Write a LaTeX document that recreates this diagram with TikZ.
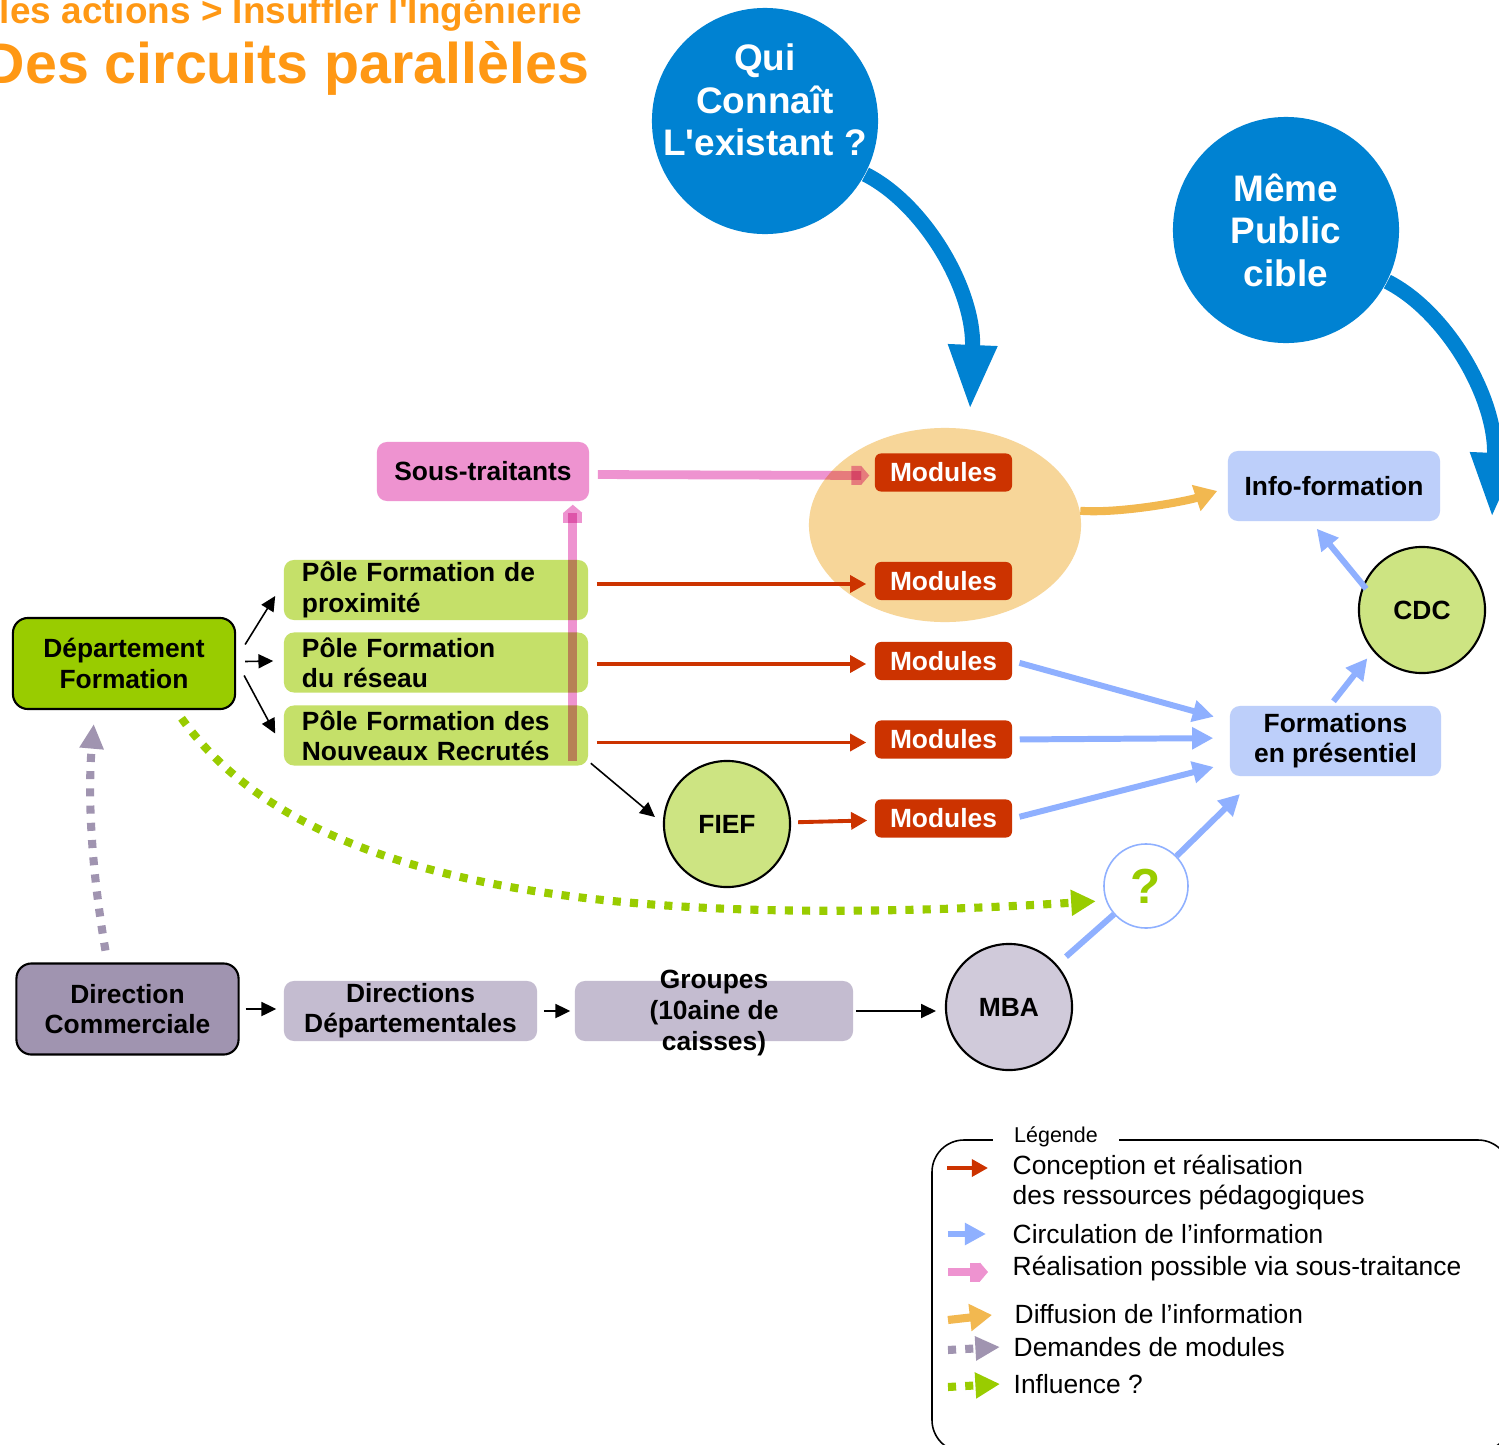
\documentclass[tikz,border=0pt]{standalone}
\usepackage{fontspec}
\setmainfont{Liberation Sans}
\usetikzlibrary{arrows.meta,shapes.geometric}
\definecolor{orangetitre}{RGB}{255,152,20}
\definecolor{bleubulle}{RGB}{0,130,210}
\definecolor{roseST}{RGB}{238,147,208}
\definecolor{vertpole}{RGB}{197,224,105}
\definecolor{vertdept}{RGB}{153,204,0}
\definecolor{vertrond}{RGB}{205,228,130}
\definecolor{violetDC}{RGB}{160,148,176}
\definecolor{violetclair}{RGB}{196,188,208}
\definecolor{violetMBA}{RGB}{208,202,218}
\definecolor{rougemod}{RGB}{204,51,0}
\definecolor{bleuboite}{RGB}{189,207,250}
\definecolor{bleufleche}{RGB}{143,176,255}
\definecolor{orangeell}{RGB}{247,214,153}
\definecolor{orangefleche}{RGB}{242,184,80}
\def\taille{\fontsize{7.5}{8.6}\selectfont}

\begin{document}
\begin{tikzpicture}[x=0.01cm,y=-0.01cm,font=\taille\bfseries]
            \tikzstyle{boite}=[rectangle,rounded corners=0.1cm,inner sep=0pt,align=center]
            \tikzstyle{pole}=[boite,fill=vertpole,minimum width=3.04cm,minimum height=0.6cm,text width=2.68cm,align=left]
            \tikzstyle{module}=[boite,fill=rougemod,text=white,minimum width=1.37cm,minimum height=0.38cm,rounded corners=0.06cm]
            \tikzstyle{info}=[boite,fill=bleuboite,minimum width=2.12cm,minimum height=0.7cm]
            \tikzstyle{chef}=[boite,draw=black,line width=0.6pt,minimum width=2.22cm,minimum height=0.91cm,rounded corners=0.15cm]
            \tikzstyle{violetbox}=[boite,fill=violetclair,minimum height=0.6cm]
            \tikzstyle{rond}=[circle,draw=black,line width=0.6pt,minimum size=1.26cm,inner sep=0pt]
            \tikzstyle{bulle}=[circle,fill=bleubulle,text=white,minimum size=2.26cm,inner sep=0pt,align=center,font=\fontsize{10.5}{12.1}\selectfont\bfseries]
            \tikzstyle{titre}=[anchor=base east,inner sep=0pt,text=orangetitre]
            \tikzstyle{legende}=[anchor=west,inner sep=0pt,align=left,font=\fontsize{7.5}{8.3}\selectfont]
            \tikzstyle{noir}=[-{Triangle[width=4pt,length=4.2pt]},line width=0.45pt]
            \tikzstyle{rouge}=[-{Triangle[width=4.8pt,length=4.6pt]},draw=rougemod,line width=1.1pt]
            \tikzstyle{info fleche}=[-{Triangle[width=6pt,length=6pt]},draw=bleufleche,line width=1.7pt]
            \tikzstyle{sous traitance}=[-{Rectangle[width=5.4pt,length=2.8pt,line width=0pt]Triangle[width=5.4pt,length=2.3pt,line width=0pt]},draw=roseST,line width=2.5pt]
            \tikzstyle{diffusion}=[-{Triangle[width=7.4pt,length=6.3pt]},draw=orangefleche,line width=2.3pt]
            \tikzstyle{grosse}=[-{Triangle[width=12.8pt,length=18.5pt]},draw=bleubulle,line width=4.3pt]
            \tikzstyle{pointille}=[line width=2.3pt,dash pattern=on 2.3pt off 2.6pt]
            \tikzstyle{demande}=[pointille,draw=violetDC,-{Triangle[width=6.5pt,length=7pt]}]
            \tikzstyle{influence}=[pointille,draw=vertdept,-{Triangle[width=7pt,length=7pt]}]

            \fill[white] (0,0) rectangle (1499,1445);
            \useasboundingbox (0,0) rectangle (1499,1445);

            % Titles
            \node[titre,font=\fontsize{10.5}{12}\selectfont\bfseries] (surtitre) at (583,23) {les actions > Insuffler l\textquotesingle Ingénierie};
            \node[titre,font=\fontsize{16.3}{18}\selectfont\bfseries] (titre) at (590,83) {Des circuits parallèles};

            % Draw the two questions
            \node[bulle,label={[text=white,align=center,font=\fontsize{10.5}{12.1}\selectfont\bfseries,yshift=0.21cm]center:Qui\\Connaît\\L\textquotesingle existant ?}] (QUI) at (765,121) {};
            \node[bulle] (MEME) at (1286,230) {Même\\Public\\cible};
            \coordinate (QUI-fin) at (970,410);
            \coordinate (MEME-fin) at (1492,518);
            \draw[grosse] (QUI.-28) .. controls +(59,30) and +(5,-120) .. (QUI-fin);
            \draw[grosse] (MEME.-27) .. controls +(59,30) and +(5,-120) .. (MEME-fin);

            % Draw the modules
            \node[ellipse,fill=orangeell,minimum width=2.72cm,minimum height=1.94cm,inner sep=0pt] (ELL) at (945,525) {};
            \foreach \name / \y in {1/472.5,2/581,3/661,4/739.5,5/818.5}
                \node[module] (M-\name) at (943.5,\y) {Modules};

            % Draw the training side
            \node[chef,fill=vertdept] (DF) at (124,663.5) {Département\\Formation};
            \foreach \name / \y / \txt in {1/590/{Pôle Formation de\\proximité},2/662.5/{Pôle Formation\\du réseau},3/735.5/{Pôle Formation des\\Nouveaux Recrutés}}
                \node[pole] (P-\name) at (436,\y) {\txt};
            \node[boite,fill=roseST,minimum width=2.12cm,minimum height=0.59cm] (ST) at (483,471.5) {Sous-traitants};
            \node[rond,fill=vertrond] (FIEF) at (727,824) {FIEF};

            % Draw the commercial side
            \node[chef,fill=violetDC] (DC) at (127.5,1009) {Direction\\Commerciale};
            \node[violetbox,minimum width=2.53cm] (DD) at (410.5,1011) {Directions\\Départementales};
            \node[violetbox,minimum width=2.78cm,label={[align=center,font=\fontsize{7.5}{8.9}\selectfont\bfseries,yshift=-0.02cm]center:Groupes\\(10aine de\\caisses)}] (GR) at (714,1011) {};
            \node[rond,fill=violetMBA] (MBA) at (1009,1007) {MBA};

            % Draw the information side
            \node[info] (IF) at (1334,486) {Info-formation};
            \node[info,minimum width=2.11cm] (FP) at (1335.5,741) {Formations\\en présentiel};
            \node[rond,fill=vertrond] (CDC) at (1422,610) {CDC};
            \node[circle,draw=bleufleche,line width=0.45pt,fill=white,minimum size=0.84cm,inner sep=0pt,text=vertdept,font=\fontsize{14}{16}\selectfont\bfseries] (Q) at (1146,886) {?};
            \coordinate (Q-fin) at (1240,794);

            % Connect the department with its poles
            \draw[noir] ([shift={(9,-19)}]DF.east) -- ([shift={(-8,6)}]P-1.west);
            \draw[noir] ([shift={(9,-2)}]DF.east) -- ([shift={(-10,-1.5)}]P-2.west);
            \draw[noir] ([shift={(8,12)}]DF.east) -- ([shift={(-8,-2)}]P-3.west);
            \draw[noir] ([shift={(2,-3)}]P-3.south east) -- ([shift={(-8,-7)}]FIEF.west);
            \draw[noir,shorten <=0.06cm,shorten >=0.07cm] (DC.east) -- (DC.east -| DD.west);
            \draw[noir,shorten <=0.06cm,shorten >=0.04cm] (DD.east) -- (DD.east -| GR.west);
            \draw[noir,shorten <=0.02cm,shorten >=0.09cm] (GR.east) -- (GR.east -| MBA.west);

            % Connect the poles with the modules
            \foreach \source / \dest in {1/2,2/3,3/4}
                \draw[rouge,shorten <=0.08cm,shorten >=0.08cm] ([yshift=-0.03cm]P-\source.east |- M-\dest.west) -- ([yshift=-0.03cm]M-\dest.west);
            \draw[rouge,shorten <=0.07cm,shorten >=0.07cm] (FIEF) -- (M-5);

            % Sub-contracting
            \begin{scope}[blend mode=multiply]
                \draw[sous traitance,shorten <=0.08cm,shorten >=0.05cm] ([yshift=-0.03cm]ST.east) -- ([yshift=-0.03cm]M-1.west);
                \draw[sous traitance] ([shift={(-16,-5)}]P-3.south east) -- ([shift={(-16,3)}]P-3.south east |- ST.south);
            \end{scope}

            % Information flows
            \foreach \source / \dy in {3/0.2,4/0.03,5/-0.22}
                \draw[info fleche,shorten <=0.07cm,shorten >=0.16cm] (M-\source.east) -- ([yshift=\dy cm]FP.west);
            \draw[info fleche,shorten <=-0.05cm,shorten >=0.09cm] (CDC.157) -- ([xshift=-0.23cm]IF.south);
            \draw[info fleche,shorten >=0.09cm] ([shift={(-2,-4)}]FP.north) -- (CDC.220);
            \draw[draw=bleufleche,line width=1.7pt,shorten <=0.12cm] (MBA) -- (Q);
            \draw[info fleche] (Q) -- (Q-fin);
            \draw[diffusion] (ELL.6) .. controls +(40,3) and +(-30,10) .. ([shift={(-10,5)}]IF.west);

            % Requests and influence
            \draw[demande,shorten <=0.12cm,shorten >=0.14cm] ([xshift=-0.2cm]DC.north) .. controls (90,860) and (88,790) .. ([xshift=-0.29cm]DF.south);
            \draw[influence,shorten <=0.1cm,shorten >=0.1cm] (DF.-42) .. controls (290,870) and (550,935) .. (Q.200);

            % Legend
            \draw[line width=0.45pt,rounded corners=0.32cm] (932,1140) rectangle (1510,1452);
            \node[fill=white,inner xsep=0.21cm,inner ysep=0pt,font=\fontsize{6.1}{7}\selectfont] (LEG) at (1056,1137) {Légende};
            \node[legende] (L-1) at (1012,1182.5) {Conception et réalisation\\des ressources pédagogiques};
            \node[legende] (L-2) at (1012,1234) {Circulation de l’information};
            \node[legende] (L-3) at (1012,1269) {Réalisation possible via sous-traitance};
            \node[legende] (L-4) at (1014,1314) {Diffusion de l’information};
            \node[legende] (L-5) at (1013,1347) {Demandes de modules};
            \node[legende] (L-6) at (1013,1384) {Influence ?};
            \draw[rouge] ([shift={(-65,-14.5)}]L-1.west) -- ++(41,0);
            \draw[info fleche] ([xshift=-0.64cm]L-2.west) -- ++(38,0);
            \draw[sous traitance] ([shift={(-64,3)}]L-3.west) -- ++(40,0);
            \draw[diffusion] ([shift={(-66,6)}]L-4.west) -- ++(44,-5);
            \draw[demande] ([shift={(-65,3)}]L-5.west) -- ++(52,-3);
            \draw[influence] ([shift={(-65,3)}]L-6.west) -- ++(52,-3);
\end{tikzpicture}
\end{document}
